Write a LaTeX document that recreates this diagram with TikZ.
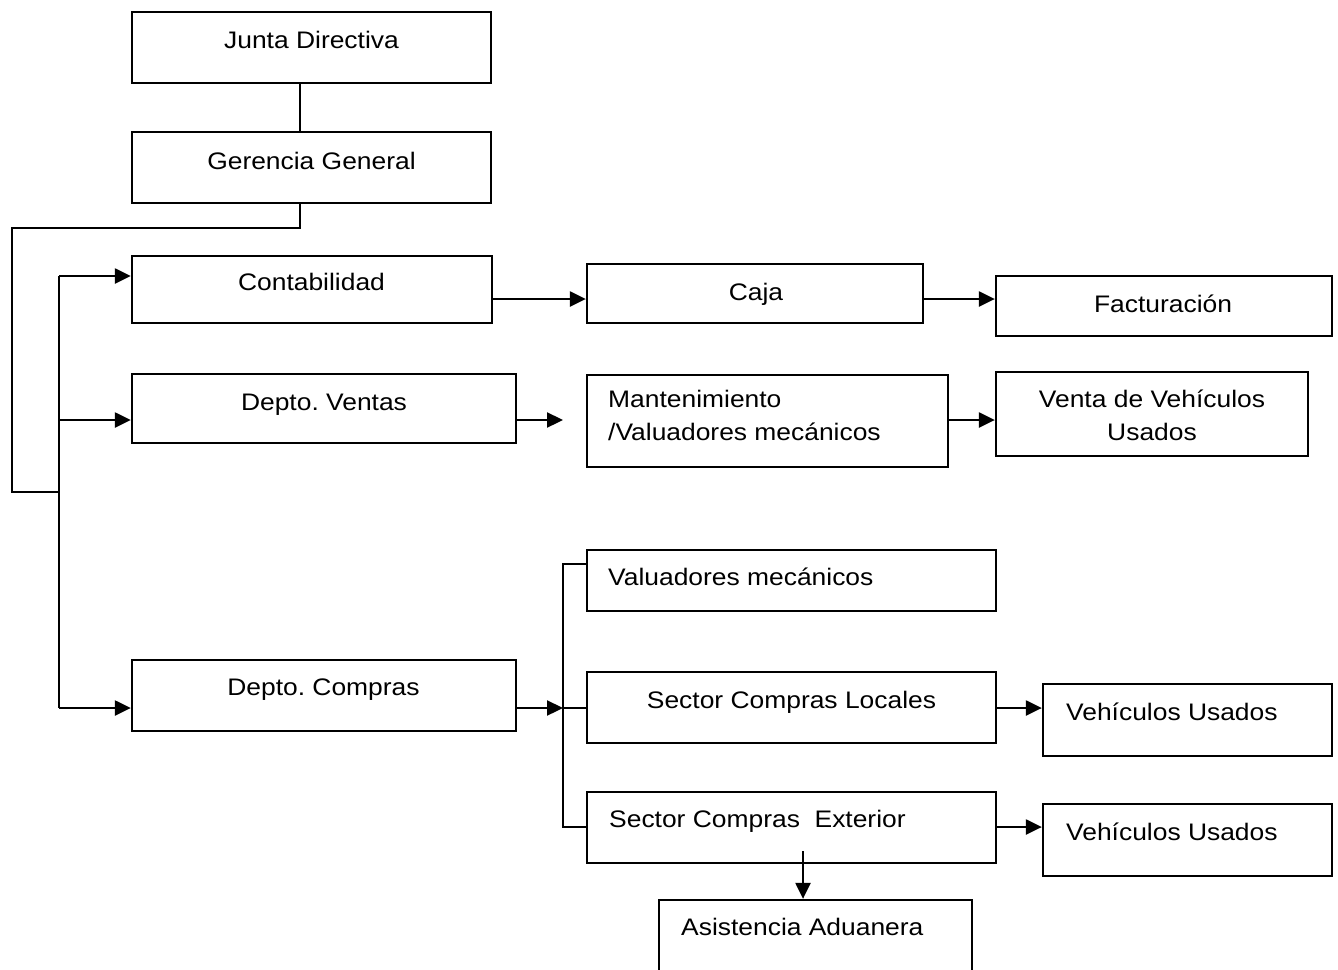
\documentclass[tikz,border=0pt]{standalone}
\usepackage{fontspec}
\setmainfont[FakeStretch=1.105]{Liberation Sans}
\usetikzlibrary{arrows.meta}
\frenchspacing
% box from (x1,y1) to (x2,y2), y counted downwards
\newcommand\orgbox[5]{%
  \node[box, minimum width={#4pt-#2pt}, minimum height={#5pt-#3pt}]
    (#1) at ({(#2+#4)/2},{(#3+#5)/2}) {};}
\begin{document}
\begin{tikzpicture}[x=1pt,y=-1pt,
  box/.style={draw, line width=2.3pt, inner sep=0pt},
  lbl/.style={inner sep=0pt, font=\fontsize{23.9}{33}\selectfont},
  wire/.style={line width=2.3pt},
  arr/.style={wire, -{Triangle[length=16pt,width=15pt]}}]
\useasboundingbox (0,0) rectangle (1338,969);
\clip (0,0) rectangle (1338,969);

% boxes
\orgbox{jd}{132}{12}{491}{83}
\orgbox{gg}{132}{132}{491}{203}
\orgbox{cont}{132}{256}{492}{323}
\orgbox{ventas}{132}{374}{516}{443}
\orgbox{compras}{132}{660}{516}{731}
\orgbox{caja}{587}{264}{923}{323}
\orgbox{fact}{996}{276}{1332}{336}
\orgbox{mant}{587}{375}{948}{467}
\orgbox{venta}{996}{372}{1308}{456}
\orgbox{valu}{587}{550}{996}{611}
\orgbox{loc}{587}{672}{996}{743}
\orgbox{ext}{587}{792}{996}{863}
\orgbox{vu1}{1043}{684}{1332}{756}
\orgbox{vu2}{1043}{804}{1332}{876}
\orgbox{asis}{659}{900}{972}{990}

% labels
\node[lbl, anchor=base] (jd-t) at (311.5,48) {Junta Directiva};
\node[lbl, anchor=base] (gg-t) at (311.5,169) {Gerencia General};
\node[lbl, anchor=base] (cont-t) at (311.5,290) {Contabilidad};
\node[lbl, anchor=base] (ventas-t) at (324,410) {Depto. Ventas};
\node[lbl, anchor=base] (compras-t) at (323.5,695) {Depto. Compras};
\node[lbl, anchor=base] (caja-t) at (756,300.5) {Caja};
\node[lbl, anchor=base] (fact-t) at (1163,312) {Facturación};
\node[lbl, anchor=base west] (mant-t1) at (608,407) {Mantenimiento};
\node[lbl, anchor=base west] (mant-t2) at (608,440) {/Valuadores mecánicos};
\node[lbl, anchor=base] (venta-t1) at (1152,407) {Venta de Vehículos};
\node[lbl, anchor=base] (venta-t2) at (1152,440) {Usados};
\node[lbl, anchor=base west] (valu-t) at (608,585) {Valuadores mecánicos};
\node[lbl, anchor=base] (loc-t) at (791.5,708) {Sector Compras Locales};
\node[lbl, anchor=base west] (ext-t) at (609,827) {Sector Compras\ \ Exterior};
\node[lbl, anchor=base west] (vu1-t) at (1066,720) {Vehículos Usados};
\node[lbl, anchor=base west] (vu2-t) at (1066,840) {Vehículos Usados};
\node[lbl, anchor=base west] (asis-t) at (681,935) {Asistencia Aduanera};

% junction points of the connectors
\coordinate (gg-drop) at (300,228);
\coordinate (loop-top) at (12,228);
\coordinate (loop-bot) at (12,492);
\coordinate (trunk-join) at (59,492);
\coordinate (trunk-top) at (59,276);
\coordinate (trunk-mid) at (59,420);
\coordinate (trunk-bot) at (59,708);
\coordinate (row1) at (0,299);
\coordinate (row2) at (0,420);
\coordinate (ventas-stop) at (563,420);
\coordinate (br-top) at (563,564);
\coordinate (br-mid) at (563,708);
\coordinate (br-bot) at (563,827);
\coordinate (ext-drop) at (803,851);

% connectors
\draw[wire] (jd.south -| gg-drop) -- (gg.north -| gg-drop);
\draw[wire] (gg.south -| gg-drop) -- (gg-drop) -- (loop-top) -- (loop-bot) -- (trunk-join);
\draw[wire] (trunk-top) -- (trunk-bot);
\draw[arr] (trunk-top) -- (trunk-top -| cont.west);
\draw[arr] (trunk-mid) -- (trunk-mid -| ventas.west);
\draw[arr] (trunk-bot) -- (trunk-bot -| compras.west);

\draw[arr] (cont.east |- row1) -- (caja.west |- row1);
\draw[arr] (caja.east |- row1) -- (fact.west |- row1);
\draw[arr] (ventas.east |- row2) -- (ventas-stop);
\draw[arr] (mant.east |- row2) -- (venta.west |- row2);

\draw[arr] (compras.east |- br-mid) -- (br-mid);
\draw[wire] (valu.west |- br-top) -- (br-top) -- (br-bot) -- (ext.west |- br-bot);
\draw[wire] (br-mid) -- (loc.west |- br-mid);
\draw[arr] (loc.east |- br-mid) -- (vu1.west |- br-mid);
\draw[arr] (ext.east |- br-bot) -- (vu2.west |- br-bot);
\draw[arr] (ext-drop) -- (ext-drop |- asis.north);
\end{tikzpicture}
\end{document}
